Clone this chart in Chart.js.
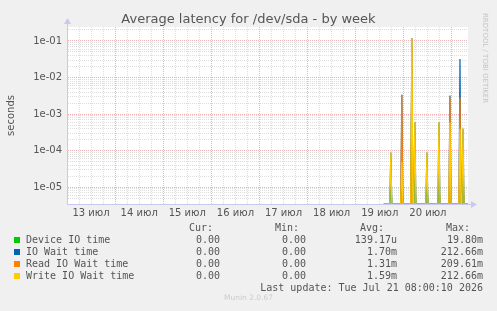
<!DOCTYPE html>
<html>
<head>
<meta charset="utf-8">
<script src="https://cdn.jsdelivr.net/npm/chart.js@4"></script>
<style>
  html, body { margin: 0; padding: 0; background: #f0f0f0; }
  #wrap { position: relative; width: 497px; height: 311px; overflow: hidden; }
  #chart { position: absolute; left: 0; top: 0; }
  .t { position: absolute; white-space: pre; color: #555; }
  .mono { font-family: "DejaVu Sans Mono", monospace; font-size: 10px; line-height: 12px; }
  .sw { position: absolute; width: 6px; height: 6px; }
</style>
</head>
<body>
<div id="wrap">
  <canvas id="chart" width="497" height="311"></canvas>
  <div class="t" style="left:0;width:497px;top:11px;text-align:center;font:13px 'DejaVu Sans';color:#555;">Average latency for /dev/sda - by week</div>
  <div class="t" style="left:481px;top:13px;font:7px 'DejaVu Sans';color:#c4c4c4;writing-mode:vertical-rl;">RRDTOOL / TOBI OETIKER</div>
  <div id="legend"></div>
  <div class="t" style="left:224px;top:293px;font:7.5px 'DejaVu Sans';color:#ccc;">Munin 2.0.67</div>
</div>
<script>
// hours since 13 Jul 00:00, 30 min samples around the spikes
const hours = [158, 161, 161.5, 162, 166.5, 167, 167.5, 171.5, 172, 172.5, 173, 173.5, 174,
               179, 179.5, 180, 185, 185.5, 186, 190.5, 191, 191.5, 195.5, 196, 196.5, 197, 197.5, 198, 200];

const deviceIO = [0, 0, 1.5e-5, 0, 0, 2e-5, 0, 0, 0.0198, 0, 0, 2e-5, 0,
                  0, 1.5e-5, 0, 0, 1.5e-5, 0, 0, 2e-5, 0, 0, 3e-5, 0, 0, 1.5e-5, 0, 0];
const ioWait   = [0, 0, 9e-5, 0, 0, 3.4e-3, 0, 0, 0.12, 0, 0, 6e-4, 0,
                  0, 9e-5, 0, 0, 6e-4, 0, 0, 3.2e-3, 0, 0, 0.032, 0, 0, 4e-4, 0, 0];
const readWait = [0, 0, 0, 0, 0, 3.4e-3, 0, 0, 0.11, 0, 0, 0, 0,
                  0, 0, 0, 0, 0, 0, 0, 3e-3, 0, 0, 2.8e-3, 0, 0, 0, 0, 0];
const writeWait = [0, 0, 9e-5, 0, 0, 5e-5, 0, 0, 0.12, 0, 0, 6e-4, 0,
                   0, 9e-5, 0, 0, 6e-4, 0, 0, 6e-4, 0, 0, 4e-4, 0, 0, 4.3e-4, 0, 0];

const dayLabels = ["13 июл", "14 июл", "15 июл", "16 июл", "17 июл", "18 июл", "19 июл", "20 июл"];

const seriesNames = ["Device IO time", "IO Wait time", "Read IO Wait time", "Write IO Wait time"];
const seriesColors = ["#00cc00", "#0066b3", "#ff8000", "#ffcc00"];
const curVals = ["0.00", "0.00", "0.00", "0.00"];
const minVals = ["0.00", "0.00", "0.00", "0.00"];
const avgVals = ["139.17u", "1.70m", "1.31m", "1.59m"];
const maxVals = ["19.80m", "212.66m", "209.61m", "212.66m"];

const Y_MIN = 3.5e-6, Y_MAX = 0.24;
const MAJOR = "rgba(235,165,165,0.85)";
const MINOR = "rgba(218,218,218,0.9)";

function points(vals) {
  // zero can't sit on a log axis, park it on the bottom edge like rrdtool does
  return hours.map((h, i) => ({ x: h, y: vals[i] > 0 ? vals[i] : Y_MIN }));
}

function isInt(v) { return Math.abs(v - Math.round(v)) < 1e-6; }
function mantissa(v) {
  const e = Math.floor(Math.log10(v) + 1e-9);
  return { m: v / Math.pow(10, e), e: e };
}

const bgPlugin = {
  id: "bg",
  beforeDraw(chart) {
    const { ctx, chartArea: a } = chart;
    ctx.save();
    ctx.fillStyle = "#ffffff";
    ctx.fillRect(a.left, a.top, a.right - a.left, a.bottom - a.top);
    ctx.restore();
  },
  afterDraw(chart) {
    const { ctx, chartArea: a } = chart;
    ctx.save();
    ctx.fillStyle = "#c8c8f0";
    ctx.strokeStyle = "#c8c8f0";
    ctx.beginPath();
    ctx.moveTo(a.left + 0.5, a.top); ctx.lineTo(a.left + 0.5, a.top - 5);
    ctx.moveTo(a.right, a.bottom + 0.5); ctx.lineTo(a.right + 4, a.bottom + 0.5);
    ctx.stroke();
    ctx.beginPath();
    ctx.moveTo(a.left - 3, a.top - 3); ctx.lineTo(a.left + 4, a.top - 3); ctx.lineTo(a.left + 0.5, a.top - 9);
    ctx.fill();
    ctx.beginPath();
    ctx.moveTo(a.right + 3, a.bottom - 3); ctx.lineTo(a.right + 3, a.bottom + 4); ctx.lineTo(a.right + 9, a.bottom + 0.5);
    ctx.fill();
    ctx.restore();
  }
};

const series = [deviceIO, ioWait, readWait, writeWait];

new Chart(document.getElementById("chart"), {
  type: "line",
  data: {
    datasets: series.map((vals, i) => ({
      label: seriesNames[i],
      data: points(vals),
      borderColor: seriesColors[i],
      borderWidth: 1.2,
      pointRadius: 0,
      tension: 0,
      fill: false,
      order: 4 - i,
    })),
  },
  options: {
    responsive: false,
    animation: false,
    layout: { padding: { top: 27, right: 29, left: 0, bottom: 89 } },
    plugins: { legend: { display: false }, tooltip: { enabled: false }, title: { display: false } },
    scales: {
      x: {
        type: "linear",
        min: 0,
        max: 200,
        afterFit: (s) => { s.height = 18; },
        ticks: {
          stepSize: 6,
          autoSkip: false,
          maxRotation: 0,
          padding: 3,
          color: "#555",
          font: { family: "DejaVu Sans", size: 10 },
          callback: (v) => (v % 24 === 12 ? dayLabels[(v - 12) / 24] : ""),
        },
        grid: {
          drawTicks: false,
          color: (c) => {
            const v = c.tick.value;
            if (v <= 0 || v >= 200) return "rgba(0,0,0,0)";
            return v % 24 === 0 ? MAJOR : MINOR;
          },
        },
        border: { display: true, color: "#c8c8f0", dash: [1, 1] },
      },
      y: {
        type: "logarithmic",
        min: Y_MIN,
        max: Y_MAX,
        afterFit: (s) => { s.width = 67; },
        title: {
          display: true,
          text: "seconds",
          color: "#555",
          font: { family: "DejaVu Sans", size: 10 },
          padding: { top: 5, bottom: 0 },
        },
        ticks: {
          autoSkip: false,
          padding: 5,
          color: "#555",
          font: { family: "DejaVu Sans", size: 10 },
          callback: (v) => {
            const { m, e } = mantissa(v);
            if (!isInt(m) || Math.round(m) !== 1) return "";
            return "1e" + (e < 0 ? "-" : "+") + String(Math.abs(e)).padStart(2, "0");
          },
        },
        afterBuildTicks: (s) => {
          s.ticks = s.ticks.filter((t) => isInt(mantissa(t.value).m));
        },
        grid: {
          drawTicks: false,
          color: (c) => {
            const { m } = mantissa(c.tick.value);
            return Math.round(m) === 1 ? MAJOR : MINOR;
          },
        },
        border: { display: true, color: "#c8c8f0", dash: [1, 1] },
      },
    },
  },
  plugins: [bgPlugin],
});

// legend table under the graph
const lg = document.getElementById("legend");
function txt(s, x, y, align) {
  const d = document.createElement("div");
  d.className = "t mono";
  d.textContent = s;
  d.style.top = y + "px";
  if (align === "r") { d.style.right = (497 - x) + "px"; d.style.textAlign = "right"; }
  else d.style.left = x + "px";
  lg.appendChild(d);
}
txt("Cur:", 213, 222, "r");
txt("Min:", 299, 222, "r");
txt("Avg:", 384, 222, "r");
txt("Max:", 470, 222, "r");
seriesNames.forEach((n, i) => {
  const y = 234 + i * 12;
  const sw = document.createElement("div");
  sw.className = "sw";
  sw.style.left = "14px";
  sw.style.top = (y + 3) + "px";
  sw.style.background = seriesColors[i];
  lg.appendChild(sw);
  txt(n, 26, y);
  txt(curVals[i], 220, y, "r");
  txt(minVals[i], 306, y, "r");
  txt(avgVals[i], 397, y, "r");
  txt(maxVals[i], 483, y, "r");
});
txt("Last update: Tue Jul 21 08:00:10 2026", 483, 282, "r");
</script>
</body>
</html>
